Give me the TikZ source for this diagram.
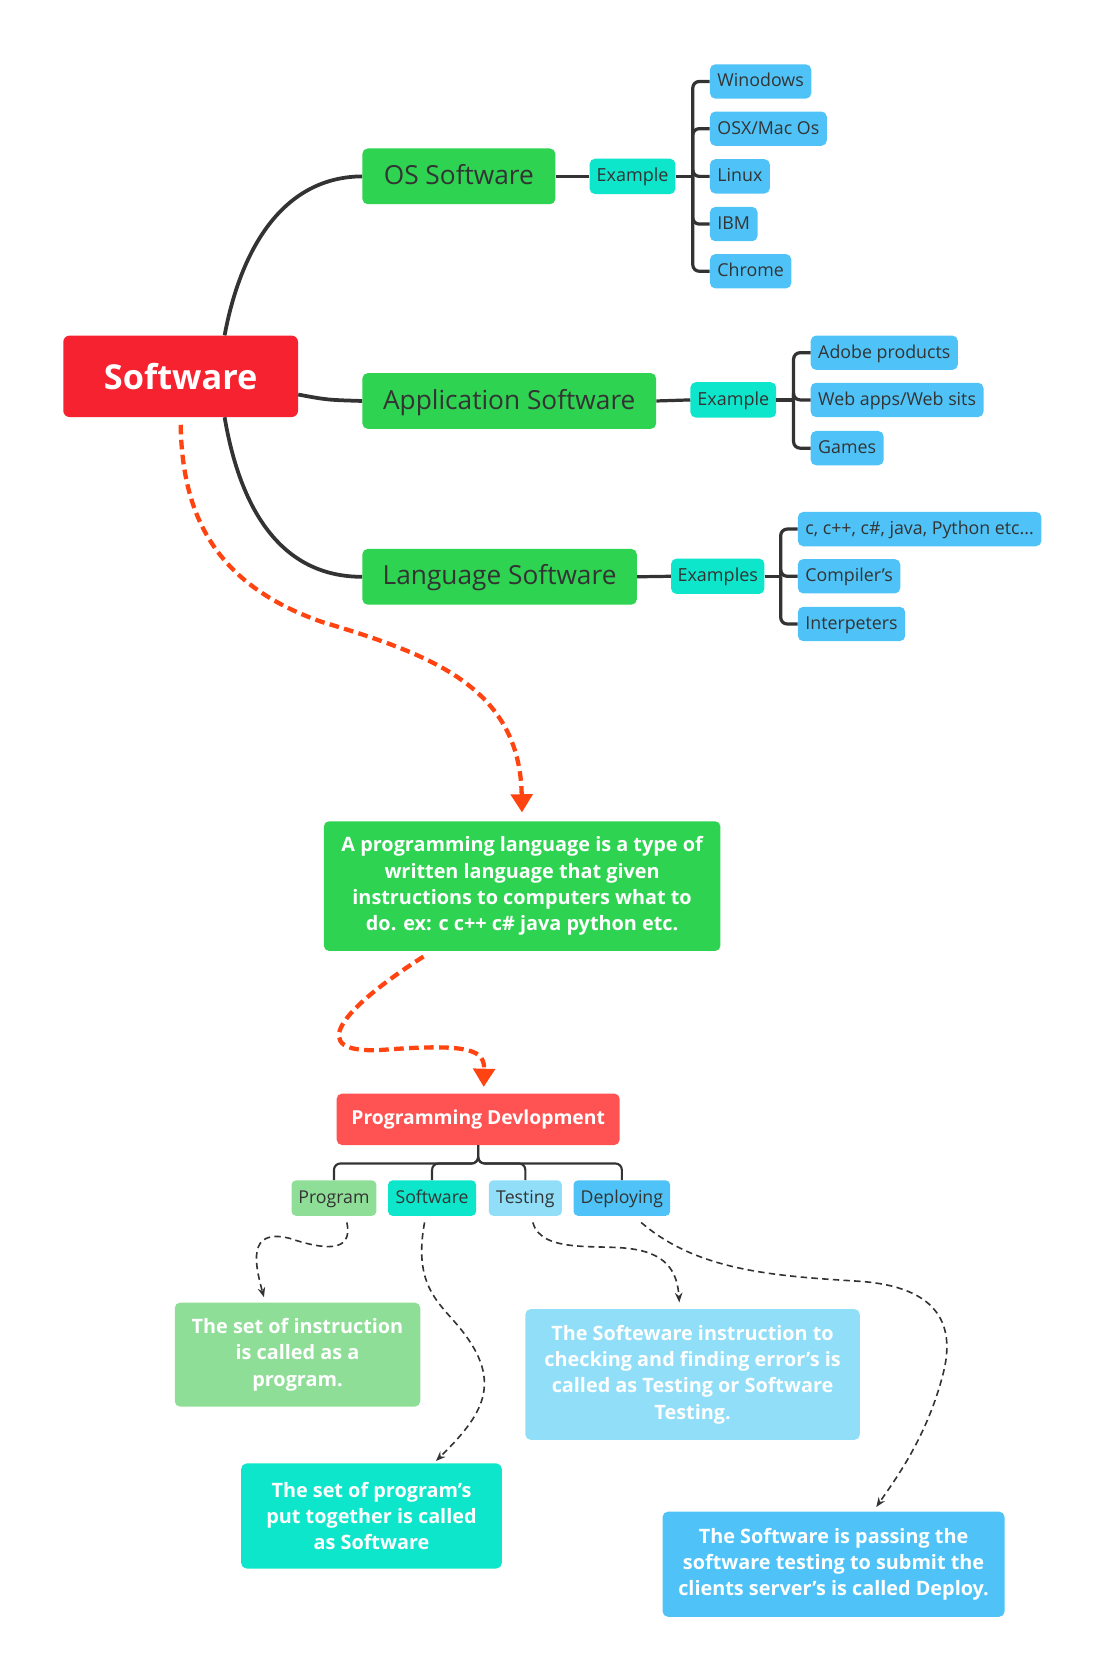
\documentclass[tikz,border=0pt]{standalone}
\usepackage{fontspec}
\setmainfont{Open Sans}
\usetikzlibrary{arrows.meta}
\definecolor{swred}{HTML}{F7222F}
\definecolor{pdred}{HTML}{FF5252}
\definecolor{mgreen}{HTML}{2ED351}
\definecolor{mteal}{HTML}{0EE6CB}
\definecolor{mblue}{HTML}{4FC3F7}
\definecolor{lgreen}{HTML}{8FDE97}
\definecolor{lblue}{HTML}{90DEF8}
\definecolor{darkline}{HTML}{333333}
\definecolor{flow}{HTML}{FF4411}

\begin{document}
\begin{tikzpicture}[x=1pt, y=-1pt,
    topic/.style={rectangle, rounded corners=5pt, inner sep=0pt, fill=mgreen, text=darkline,
      minimum height=52pt, text height=18pt, text depth=3pt, font=\fontsize{24.5}{28}\selectfont},
    tag/.style={rectangle, rounded corners=5pt, inner sep=0pt, fill=mteal, text=darkline,
      minimum height=33pt, text height=12.5pt, text depth=2.5pt, font=\fontsize{16.8}{19}\selectfont},
    leaf/.style={rectangle, rounded corners=5pt, inner xsep=7pt, inner ysep=0pt, fill=mblue,
      text=darkline, minimum height=32pt, text height=12.5pt, text depth=2.5pt, anchor=west,
      font=\fontsize{16.6}{19}\selectfont},
    kid/.style={rectangle, rounded corners=4pt, inner sep=0pt, text=darkline,
      minimum height=33pt, text height=12.5pt, text depth=2.5pt, font=\fontsize{16.5}{19}\selectfont},
    note/.style={rectangle, rounded corners=5pt, inner sep=0pt, align=center, text=white,
      font=\bfseries\fontsize{18.5}{24.5}\selectfont},
    branch/.style={draw=darkline, line width=3.5pt},
    bracket/.style={draw=darkline, line width=3pt, rounded corners=6pt},
    tree/.style={draw=darkline, line width=2pt, rounded corners=6pt},
    flowline/.style={draw=flow, line width=4pt, dash pattern=on 9pt off 5pt,
      -{Triangle[width=20pt,length=17pt]}},
    hint/.style={draw=darkline, line width=1.5pt, dash pattern=on 6pt off 4pt,
      -{Stealth[length=9pt,width=7pt]}}]
  \useasboundingbox (0,0) rectangle (1043.5,1567);

  % root
  \node[rectangle, rounded corners=6pt, fill=swred, text=white, minimum width=219pt,
    minimum height=76pt, font=\bfseries\fontsize{32}{36}\selectfont] (sw) at (168.5,351) {Software};

  % topics
  \node[topic, minimum width=180pt] (os) at (428,164.5) {OS Software};
  \node[topic, minimum width=274pt] (app) at (475,374) {Application Software};
  \node[topic, minimum width=256pt] (lang) at (466,538) {Language Software};

  \draw[branch] ([xshift=41pt]sw.north) .. controls (225,230) and (265,165) .. (os.west);
  \draw[branch] ([yshift=-17pt]sw.east) .. controls (305,373) .. (app.west);
  \draw[branch] ([xshift=41pt]sw.south) .. controls (225,480) and (265,538) .. (lang.west);

  % examples
  \node[tag, minimum width=80pt] (osex) at (590,164.5) {Example};
  \node[tag, minimum width=80pt] (appex) at (684,373) {Example};
  \node[tag, minimum width=87pt] (langex) at (669.5,537.5) {Examples};

  \draw[bracket] (os.east) -- (osex.west);
  \draw[bracket] (app.east) -- (appex.west);
  \draw[bracket] (lang.east) -- (langex.west);

  \node[leaf] (win) at (662,76) {Winodows};
  \node[leaf] (mac) at (662,120) {OSX/Mac Os};
  \node[leaf] (linux) at (662,164.5) {Linux};
  \node[leaf] (ibm) at (662,209) {IBM};
  \node[leaf] (chrome) at (662,253) {Chrome};

  \node[leaf] (adobe) at (756,329) {Adobe products};
  \node[leaf] (web) at (756,373) {Web apps/Web sits};
  \node[leaf] (games) at (756,418) {Games};

  \node[leaf] (langs) at (744,493.5) {c, c++, c\#, java, Python etc...};
  \node[leaf] (comp) at (744,537.5) {Compiler's};
  \node[leaf] (interp) at (744,582) {Interpeters};

  \draw[bracket] (osex.east) -- ++(16,0) coordinate (osj);
  \foreach \l in {win,mac,linux,ibm,chrome}
    \draw[bracket] (osj) |- (\l.west);
  \draw[bracket] (appex.east) -- ++(16,0) coordinate (appj);
  \foreach \l in {adobe,web,games}
    \draw[bracket] (appj) |- (\l.west);
  \draw[bracket] (langex.east) -- ++(15,0) coordinate (langj);
  \foreach \l in {langs,comp,interp}
    \draw[bracket] (langj) |- (\l.west);

  % programming language
  \node[note, fill=mgreen, minimum width=370pt, minimum height=121pt] (desc) at (487,826.5)
    {A programming language is a type of\\ written language that given\\
     instructions to computers what to\\ do. ex: c c++ c\# java python etc.};
  \draw[flowline, shorten >=8pt] ([yshift=-7pt]sw.south) .. controls (170,480) and (200,545) .. (300,580)
    .. controls (400,610) and (485,640) .. (desc.north);

  \node[rectangle, rounded corners=5pt, fill=pdred, text=white, minimum width=264pt,
    minimum height=48pt, font=\bfseries\fontsize{18}{22}\selectfont] (pd) at (446,1044) {Programming Devlopment};
  \draw[flowline, shorten >=6pt] ([xshift=-92pt,yshift=-5pt]desc.south) .. controls (320,940) and (280,985) .. (360,979)
    .. controls (440,973) and (452,980) .. ([xshift=5pt]pd.north);

  % stages
  \node[kid, fill=lgreen, minimum width=79pt] (prog) at (311.5,1117.5) {Program};
  \node[kid, fill=mteal, minimum width=82pt] (soft) at (403,1117.5) {Software};
  \node[kid, fill=lblue, minimum width=68pt] (test) at (490,1117.5) {Testing};
  \node[kid, fill=mblue, minimum width=90pt] (depl) at (580,1117.5) {Deploying};

  \foreach \c in {prog,soft,test,depl}
    \draw[tree] (pd.south) -- ++(0,17) -| (\c.north);

  \node[note, fill=lgreen, minimum width=229pt, minimum height=97pt] (progtxt) at (277.5,1263.5)
    {The set of instruction\\ is called as a\\ program.};
  \node[note, fill=lblue, minimum width=312pt, minimum height=122pt] (testtxt) at (646,1282)
    {The Softeware instruction to\\ checking and finding error's is\\ called as Testing or Software\\ Testing.};
  \node[note, fill=mteal, minimum width=243pt, minimum height=98pt] (softtxt) at (346.5,1414)
    {The set of program's\\ put together is called\\ as Software};
  \node[note, fill=mblue, minimum width=319pt, minimum height=98pt] (depltxt) at (777.5,1459)
    {The Software is passing the\\ software testing to submit the\\ clients server's is called Deploy.};

  \draw[hint, shorten >=5pt] ([xshift=12pt,yshift=-6pt]prog.south) .. controls (330,1170) and (300,1165) .. (270,1155)
    .. controls (230,1145) and (238,1180) .. ([xshift=-30pt]progtxt.north);
  \draw[hint, shorten >=3pt] ([xshift=-7pt,yshift=-6pt]soft.south) .. controls (385,1200) and (410,1215) .. (430,1240)
    .. controls (470,1290) and (450,1320) .. ([xshift=58pt]softtxt.north);
  \draw[hint, shorten >=6pt] ([xshift=7pt,yshift=-6pt]test.south) .. controls (505,1170) and (560,1160) .. (590,1165)
    .. controls (625,1170) and (632,1190) .. ([xshift=-12pt]testtxt.north);
  \draw[hint, shorten >=5pt] ([xshift=18pt,yshift=-6pt]depl.south) .. controls (650,1185) and (720,1190) .. (800,1195)
    .. controls (880,1200) and (890,1240) .. (880,1280) .. controls (865,1340) and (835,1380) .. ([xshift=37pt]depltxt.north);
\end{tikzpicture}
\end{document}
